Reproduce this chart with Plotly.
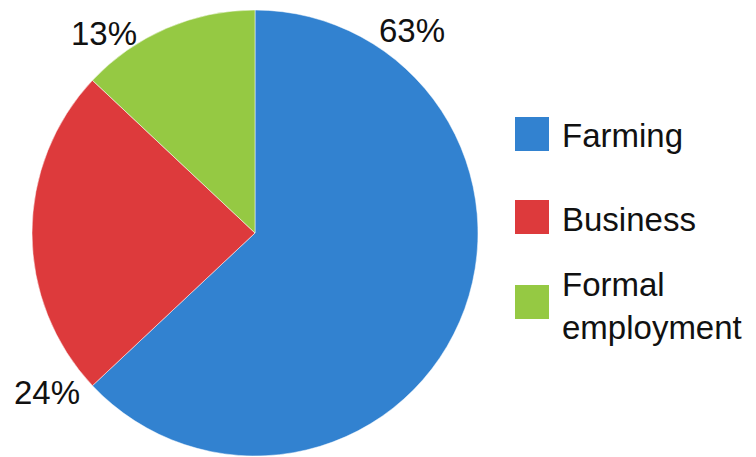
import plotly.graph_objects as go

categories = ["Farming", "Business", "Formal employment"]
legend_labels = ["Farming", "Business", "Formal<br>employment"]
values = [63, 24, 13]
colors = ["#3282d0", "#dd3a3c", "#95c943"]

W, H = 756, 457

def px(x):
    return x / W

def py(y):
    return 1 - y / H

fig = go.Figure(go.Pie(
    labels=categories,
    values=values,
    sort=False,
    direction="clockwise",
    rotation=0,
    marker=dict(colors=colors, line=dict(color="white", width=0.5)),
    textinfo="none",
    hoverinfo="label+percent",
    showlegend=False,
    domain=dict(x=[px(32), px(478)], y=[py(456), py(10)]),
))

font = dict(family="Liberation Sans, Arial, sans-serif", size=33, color="#111111")

# percentage labels (positions as in reference)
label_pos = {"Farming": (412, 30), "Business": (47, 392), "Formal employment": (104, 34)}
annotations = []
total = sum(values)
for cat, v in zip(categories, values):
    x, y = label_pos[cat]
    annotations.append(dict(
        x=px(x), y=py(y), xref="paper", yref="paper",
        text=f"{round(100 * v / total)}%", showarrow=False,
        xanchor="center", yanchor="middle", font=font,
    ))

# manual legend
shapes = []
sw_top = [117, 200, 285]
text_y = [136, 219, 306]
for lab, col, t, ty in zip(legend_labels, colors, sw_top, text_y):
    shapes.append(dict(
        type="rect", xref="paper", yref="paper",
        x0=px(515), x1=px(549), y0=py(t + 34), y1=py(t),
        fillcolor=col, line=dict(width=0),
    ))
    annotations.append(dict(
        x=px(560), y=py(ty), xref="paper", yref="paper",
        text=lab, showarrow=False, xanchor="left", yanchor="middle",
        align="left", font=font,
    ))

fig.update_layout(
    width=W, height=H,
    margin=dict(l=0, r=0, t=0, b=0),
    paper_bgcolor="white", plot_bgcolor="white",
    annotations=annotations, shapes=shapes,
)

fig.write_html("out.html")
